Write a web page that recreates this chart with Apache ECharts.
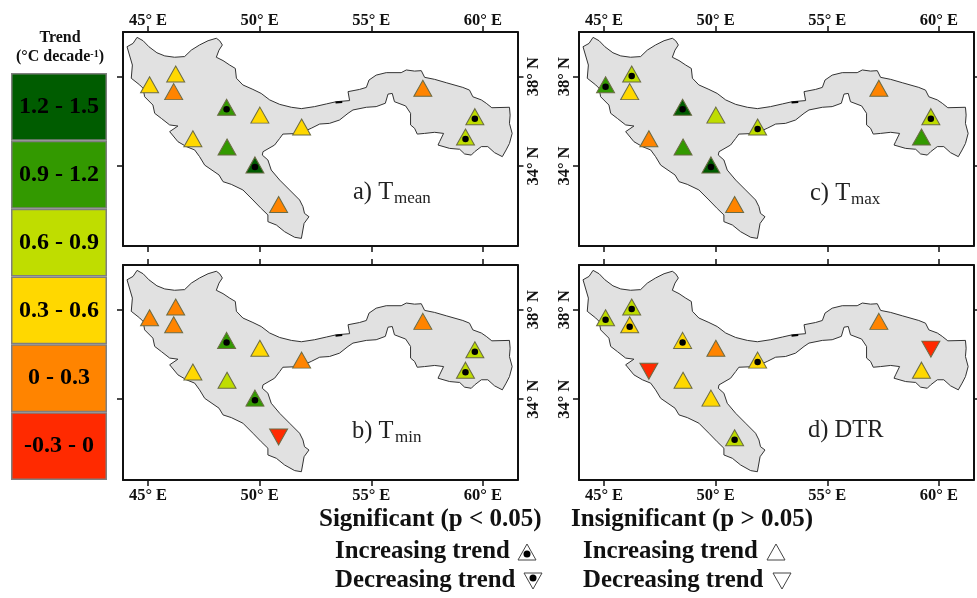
<!DOCTYPE html>
<html><head><meta charset="utf-8">
<style>html,body{margin:0;padding:0;background:#fff}#c{width:977px;height:598px}</style>
<script src="https://cdn.jsdelivr.net/npm/echarts@6/dist/echarts.min.js"></script>
</head><body><div id="c"></div>
<script>
const FONT = '"Liberation Serif","Times New Roman",serif';
const lonTicks = [45, 50, 55, 60];
const latTicks = [34, 38];
const stationLon = [45.07,46.24,46.15,48.52,50.01,47.01,48.54,49.79,50.85,51.88,57.31,59.64,59.22];
const stationLat = [37.55,38.03,37.24,36.54,36.19,35.13,34.76,33.96,32.19,35.66,37.39,36.12,35.21];
const tmeanTrend = [.45,.45,.15,1.05,.45,.45,1.05,1.35,.15,.45,.15,.75,.75];
const tmeanSig   = [0,0,0,1,0,0,0,1,0,0,0,1,1];
const tminTrend  = [.15,.15,.15,1.05,.45,.45,.75,1.05,-.15,.15,.15,.75,.75];
const tminSig    = [0,0,0,1,0,0,0,1,0,0,0,1,1];
const tmaxTrend  = [1.05,.75,.45,1.35,.75,.15,1.05,1.35,.15,.75,.15,.75,1.05];
const tmaxSig    = [1,1,0,1,0,0,0,1,0,1,0,1,0];
const dtrTrend   = [.75,.75,.45,.45,.15,-.15,.45,.45,.75,.45,.15,-.15,.45];
const dtrSig     = [1,1,1,1,0,0,0,0,1,1,0,0,0];
const classLabels = ['1.2 - 1.5','0.9 - 1.2','0.6 - 0.9','0.3 - 0.6','0 - 0.3','-0.3 - 0'];
const classLower  = [1.2,0.9,0.6,0.3,0,-0.3];
const classColors = ['#005c00','#339900','#bfdd00','#ffd800','#ff8400','#ff2a00'];
const regionOutline = [[44.51,39.76],[44.78,39.61],[45.04,39.34],[45.40,39.07],[45.75,38.93],[46.19,38.87],[46.64,38.90],[46.94,39.19],[47.31,39.42],[47.69,39.61],[48.06,39.72],[48.21,39.61],[48.33,39.42],[48.18,39.19],[48.06,38.87],[48.36,38.72],[48.66,38.52],[48.91,38.37],[48.96,37.93],[49.25,37.63],[49.70,37.43],[50.07,37.25],[50.45,36.96],[50.90,36.76],[51.42,36.63],[51.87,36.57],[52.46,36.66],[52.99,36.78],[53.43,36.88],[54.03,36.93],[53.96,37.33],[54.48,37.43],[54.78,37.52],[54.90,37.85],[55.22,38.07],[55.67,38.18],[56.34,38.18],[56.57,38.30],[56.94,38.25],[57.24,38.27],[57.39,37.97],[57.84,37.88],[58.36,37.73],[59.10,37.52],[59.40,37.40],[59.55,37.10],[59.93,36.96],[60.15,36.81],[60.40,36.61],[61.19,36.63],[61.22,36.28],[61.19,35.91],[61.31,35.46],[61.19,35.01],[61.04,34.72],[60.87,34.42],[60.52,34.60],[60.22,34.87],[59.93,34.87],[59.63,34.64],[59.48,34.49],[59.18,34.54],[58.96,34.75],[58.51,34.79],[57.99,34.94],[58.06,35.09],[58.24,35.46],[57.84,35.51],[57.39,35.46],[57.06,35.43],[56.94,35.69],[56.76,35.84],[56.76,36.36],[56.54,36.69],[56.04,36.88],[55.94,37.25],[55.75,37.22],[55.63,36.81],[55.22,36.66],[54.78,36.63],[54.18,36.51],[53.96,36.36],[53.58,36.06],[53.13,35.91],[52.69,35.88],[52.31,35.69],[51.79,35.46],[51.04,35.43],[50.90,35.24],[50.67,34.94],[50.15,34.64],[50.12,34.49],[50.37,34.27],[50.52,33.82],[50.90,33.37],[51.34,32.93],[51.79,32.48],[51.94,32.18],[52.01,31.88],[52.21,31.73],[51.99,31.43],[51.87,30.76],[51.57,30.81],[51.12,31.06],[50.75,31.36],[50.37,31.51],[50.37,31.81],[50.07,32.10],[49.70,32.48],[49.25,32.93],[48.73,33.18],[48.36,33.30],[48.18,33.60],[47.54,34.04],[47.31,34.42],[47.09,34.72],[46.72,34.87],[46.34,35.09],[45.97,35.54],[46.34,35.79],[45.97,35.84],[45.60,36.13],[45.30,36.36],[45.22,36.73],[44.85,37.10],[44.78,37.48],[44.63,37.63],[44.25,37.93],[44.30,38.52],[44.06,39.34],[44.33,39.49]];
const inletLine = [[53.40,36.84],[53.70,36.87]];

const panels = [
  {left:123, top:32,  h:214, trend:tmeanTrend, sig:tmeanSig, labelsBottom:false, latSide:'right', name:'a) T', sub:'mean', tx:353, ty:193, sx:394},
  {left:123, top:265, h:215, trend:tminTrend,  sig:tminSig,  labelsBottom:true,  latSide:'right', name:'b) T', sub:'min',  tx:352, ty:432, sx:395},
  {left:579, top:32,  h:214, trend:tmaxTrend,  sig:tmaxSig,  labelsBottom:false, latSide:'left',  name:'c) T', sub:'max',  tx:810, ty:194, sx:851},
  {left:579, top:265, h:215, trend:dtrTrend,   sig:dtrSig,   labelsBottom:true,  latSide:'left',  name:'d) DTR', sub:'',   tx:808, ty:431, sx:0}
];
const W = 394.5;
const colorOf = v => { for (let i=0;i<classLower.length;i++) if (v>=classLower[i]) return classColors[i]; return classColors[5]; };

const grid=[], xAxis=[], yAxis=[], series=[], graphic=[];
const lbl = {fontFamily:FONT, fontWeight:'bold', fontSize:16.5, color:'#111'};
const line = {show:true, onZero:false, lineStyle:{color:'#111', width:2}};
const tick = vals => ({show:true, length:6, lineStyle:{color:'#111', width:1.5}, customValues:vals});

panels.forEach((p,i)=>{
  grid.push({left:p.left, top:p.top, width:W, height:p.h, containLabel:false, outerBoundsMode:'none'});
  const gx = {gridIndex:i, type:'value', min:43.88, max:61.55, splitLine:{show:false}, axisLine:line, axisTick:tick(lonTicks)};
  xAxis.push(Object.assign({},gx,{position:'top',
    axisLabel:p.labelsBottom?{show:false}:Object.assign({show:true,margin:3,customValues:lonTicks,formatter:v=>v+'° E'},lbl)}));
  xAxis.push(Object.assign({},gx,{position:'bottom',
    axisLabel:p.labelsBottom?Object.assign({show:true,margin:7,customValues:lonTicks,formatter:v=>v+'° E'},lbl):{show:false}}));
  const gy = {gridIndex:i, type:'value', min:p.labelsBottom?30.39:30.42, max:40.0, splitLine:{show:false}, axisLine:line, axisTick:tick(latTicks)};
  const latLabel = Object.assign({show:true,margin:p.latSide==='right'?8:6,rotate:90,customValues:latTicks,formatter:v=>v+'° N'},lbl);
  yAxis.push(Object.assign({},gy,{position:'left', axisLabel:p.latSide==='left'?latLabel:{show:false}}));
  yAxis.push(Object.assign({},gy,{position:'right', axisLabel:p.latSide==='right'?latLabel:{show:false}}));
  const ax = {xAxisIndex:i*2, yAxisIndex:i*2};
  series.push(Object.assign({type:'custom', silent:true, z:1, data:[regionOutline[0]],
    renderItem:(params,api)=>({type:'polygon',
      shape:{points:regionOutline.map(c=>api.coord(c))},
      style:{fill:'#e1e1e1', stroke:'#333', lineWidth:1}})},ax));
  series.push(Object.assign({type:'line', silent:true, z:2, symbol:'none', data:inletLine,
    lineStyle:{color:'#000', width:2}},ax));
  series.push(Object.assign({type:'scatter', silent:true, z:3,
    data:stationLon.map((lon,k)=>{
      const v=p.trend[k], down=v<0;
      return {value:[lon,stationLat[k],v], symbol:'triangle', symbolRotate:down?180:0,
        symbolOffset:[0,down?-2.7:-2], itemStyle:{color:colorOf(v), opacity:1}};
    }),
    symbolSize:[18,16], itemStyle:{borderColor:'#6b6b45', borderWidth:1}},ax));
  series.push(Object.assign({type:'scatter', silent:true, z:4,
    data:stationLon.map((lon,k)=>[lon,stationLat[k],p.sig[k]]).filter(d=>d[2]===1),
    symbol:'circle', symbolSize:6.5, itemStyle:{color:'#000', opacity:1}},ax));
  graphic.push({type:'text', x:p.tx, y:p.ty, z:10, style:{text:p.name, fontFamily:FONT, fontSize:24.5, fill:'#222', verticalAlign:'middle'}});
  if (p.sub) graphic.push({type:'text', x:p.sx, y:p.ty+6, z:10, style:{text:p.sub, fontFamily:FONT, fontSize:17, fill:'#222', verticalAlign:'middle'}});
});

// colour-class key
grid.push({left:11, top:73, width:96, height:407, outerBoundsMode:'none'});
xAxis.push({gridIndex:4, type:'value', min:0, max:1, show:false});
yAxis.push({gridIndex:4, type:'category', inverse:true, data:classLabels, show:false});
series.push({type:'bar', xAxisIndex:8, yAxisIndex:8, silent:true, barWidth:'100%',
  data:classColors.map(c=>({value:1, itemStyle:{color:c, borderColor:'#7f7f7f', borderWidth:1.5}})),
  label:{show:true, position:'inside', formatter:p=>p.name, fontFamily:FONT, fontWeight:'bold', fontSize:24, color:'#000'}});

const t = (text,x,y,size,align) => ({type:'text', x, y, z:10, style:{text, fontFamily:FONT, fontWeight:'bold', fontSize:size, fill:'#111', align:align||'left', verticalAlign:'middle'}});
graphic.push(t('Trend',60,38,16,'center'));
graphic.push({type:'text', x:60, y:57, z:10, style:{align:'center', verticalAlign:'middle',
  text:'{a|(°C decade}{s|-1}{a|)}',
  rich:{a:{fontFamily:FONT,fontWeight:'bold',fontSize:16,fill:'#111'},
        s:{fontFamily:FONT,fontWeight:'bold',fontSize:10,fill:'#111',verticalAlign:'top'}}}});
graphic.push(t('Significant (p < 0.05)',319,520,25));
graphic.push(t('Insignificant (p > 0.05)',571,520,25));
graphic.push(t('Increasing trend',335,552,24.8));
graphic.push(t('Decreasing trend',335,581,24.8));
graphic.push(t('Increasing trend',583,552,24.8));
graphic.push(t('Decreasing trend',583,581,24.8));
const tri=(cx,cy,up)=>({type:'polygon', z:10, shape:{points:up?[[cx-9,cy+8],[cx+9,cy+8],[cx,cy-8]]:[[cx-9,cy-8],[cx+9,cy-8],[cx,cy+8]]}, style:{fill:'#fff',stroke:'#444',lineWidth:1}});
const dot=(cx,cy)=>({type:'circle', z:11, shape:{cx,cy,r:3.5}, style:{fill:'#000'}});
graphic.push(tri(527,552,true),dot(527,554),tri(533,581,false),dot(533,578),tri(776,552,true),tri(782,581,false));

echarts.init(document.getElementById('c'),null,{renderer:'canvas'}).setOption({
  animation:false, backgroundColor:'#fff', grid, xAxis, yAxis, series, graphic:{elements:graphic}
});
</script></body></html>
